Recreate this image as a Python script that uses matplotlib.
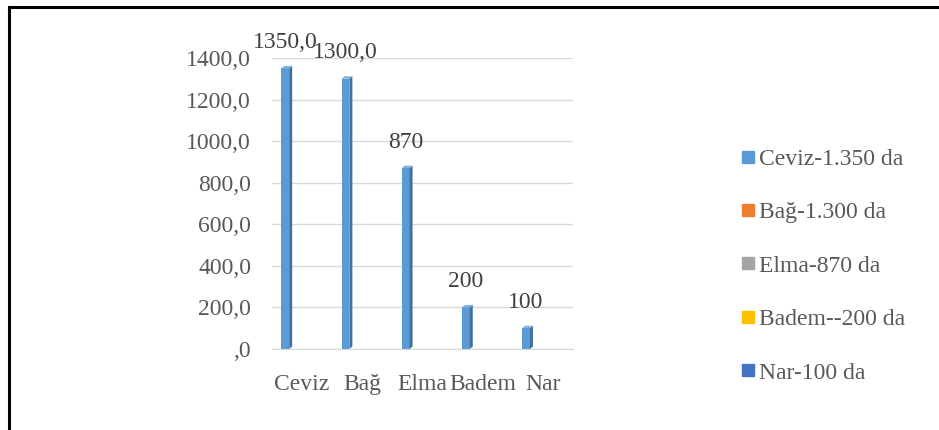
import matplotlib
matplotlib.use("Agg")
import matplotlib.pyplot as plt
from matplotlib.patches import Polygon
from matplotlib.lines import Line2D

categories = ["Ceviz", "Bağ", "Elma", "Badem", "Nar"]
values = [1350, 1300, 870, 200, 100]
value_labels = ["1350,0", "1300,0", "870", "200", "100"]
yticks = [0, 200, 400, 600, 800, 1000, 1200, 1400]
ytick_labels = [",0", "200,0", "400,0", "600,0", "800,0", "1000,0", "1200,0", "1400,0"]
legend_labels = ["Ceviz-1.350 da", "Bağ-1.300 da", "Elma-870 da", "Badem--200 da", "Nar-100 da"]
legend_colors = ["#5B9BD5", "#ED7D31", "#A5A5A5", "#FFC000", "#4472C4"]

plt.rcParams['font.family'] = ['Liberation Serif', 'DejaVu Serif']
txt = "#595959"
fs = 17

fig = plt.figure(figsize=(9.39, 4.30), dpi=100)
ax = fig.add_axes([272/939, 81/430, 301/939, 291/430])

n = len(categories)
xs = list(range(n))
off = -0.28
bw = 0.13
front = "#5B9BD5"
side = "#41719C"
topc = "#7FB2E0"
ddx = 0.05
ddy = 12

for i, v in enumerate(values):
    x0 = xs[i] + off - bw/2
    ax.bar(xs[i] + off, v, width=bw, color=front, edgecolor="none", zorder=3)
    sidepoly = Polygon([(x0+bw, 0), (x0+bw+ddx, ddy), (x0+bw+ddx, v+ddy), (x0+bw, v)],
                       closed=True, facecolor=side, edgecolor="none", zorder=3)
    ax.add_patch(sidepoly)
    toppoly = Polygon([(x0, v), (x0+ddx, v+ddy), (x0+bw+ddx, v+ddy), (x0+bw, v)],
                      closed=True, facecolor=topc, edgecolor="none", zorder=3)
    ax.add_patch(toppoly)
    ax.text(xs[i] + off, v + 75, value_labels[i], ha="center", va="bottom",
            fontsize=fs, color="#404040", zorder=4)

ax.set_xlim(-0.5, n - 0.5)
ax.set_ylim(0, 1400)
ax.set_yticks(yticks)
ax.set_yticklabels(ytick_labels, fontsize=fs, color=txt)
ax.set_xticks(xs)
ax.set_xticklabels(categories, fontsize=fs, color=txt)
ax.tick_params(axis="both", length=0)
ax.tick_params(axis="y", pad=15)
ax.tick_params(axis="x", pad=18)
ax.grid(axis="y", color="#D9D9D9", linewidth=1, zorder=0)
for s in ax.spines.values():
    s.set_visible(False)
ax.spines["bottom"].set_visible(True)
ax.spines["bottom"].set_color("#D9D9D9")

handles = [Line2D([], [], marker="s", linestyle="none", markersize=8,
                  markerfacecolor=c, markeredgecolor=c) for c in legend_colors]
leg = fig.legend(handles, legend_labels, loc="center left",
                 bbox_to_anchor=(729/939, 1 - 266/430), frameon=False,
                 fontsize=fs, labelspacing=1.35, handletextpad=0.15,
                 handlelength=0.6, borderpad=0)
for t in leg.get_texts():
    t.set_color(txt)

fig.add_artist(Line2D([9/939, 9/939], [0, 1 - 7/430], transform=fig.transFigure,
                      color="black", linewidth=2.2))
fig.add_artist(Line2D([9/939, 1], [1 - 7/430, 1 - 7/430], transform=fig.transFigure,
                      color="black", linewidth=2.2))

fig.savefig("out.png", dpi=100)
